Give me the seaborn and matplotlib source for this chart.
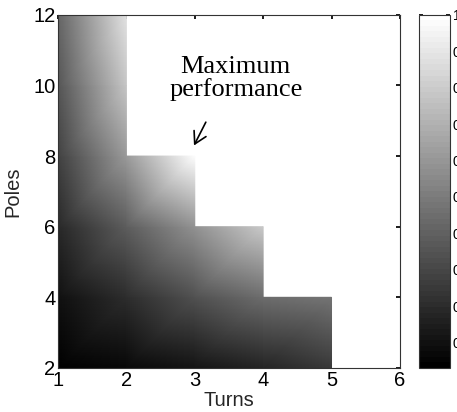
import numpy as np
import matplotlib
matplotlib.use("Agg")
import matplotlib.pyplot as plt
import matplotlib.tri as mtri
import seaborn as sns

# grid nodes: turns along x, poles along y
turns = [1, 2, 3, 4, 5, 6]
poles = [2, 4, 6, 8, 10, 12]

# normalised performance at each (turn, pole) node, nan = not feasible
perf_t1 = [0.03, 0.10, 0.19, 0.28, 0.35, 0.42]
perf_t2 = [0.07, 0.20, 0.38, 0.62, 0.78, 0.88]
perf_t3 = [0.12, 0.34, 0.58, 1.00, np.nan, np.nan]
perf_t4 = [0.18, 0.45, 0.80, np.nan, np.nan, np.nan]
perf_t5 = [0.25, 0.48, np.nan, np.nan, np.nan, np.nan]
perf_t6 = [np.nan, np.nan, np.nan, np.nan, np.nan, np.nan]

cbar_ticks = [0.1, 0.2, 0.3, 0.4, 0.5, 0.6, 0.7, 0.8, 0.9, 1.0]
cbar_labels = ["0.1", "0.2", "0.3", "0.4", "0.5", "0.6", "0.7", "0.8", "0.9", "1"]

sns.set_theme(style="white")
plt.rcParams["font.family"] = ["Liberation Sans", "DejaVu Sans"]

Z = np.array([perf_t1, perf_t2, perf_t3, perf_t4, perf_t5, perf_t6])  # [turn, pole]
TT, PP = np.meshgrid(turns, poles, indexing="ij")

# build triangles from every grid cell whose four corners are all feasible
nt, npl = Z.shape
idx = np.arange(Z.size).reshape(Z.shape)
tris = []
for i in range(nt - 1):
    for j in range(npl - 1):
        corners = Z[i:i + 2, j:j + 2]
        if np.all(np.isfinite(corners)):
            a, b = idx[i, j], idx[i + 1, j]
            c, d = idx[i + 1, j + 1], idx[i, j + 1]
            tris.append([a, b, c])
            tris.append([a, c, d])
tris = np.array(tris)

used = np.unique(tris)
remap = -np.ones(Z.size, dtype=int)
remap[used] = np.arange(len(used))
tri = mtri.Triangulation(TT.ravel()[used], PP.ravel()[used], remap[tris])
vals = Z.ravel()[used]

fig = plt.figure(figsize=(4.57, 4.12), dpi=100)
ax = fig.add_axes([0.127, 0.107, 0.748, 0.857])
cax = fig.add_axes([0.917, 0.107, 0.068, 0.857])

cmap = plt.get_cmap("gray").resampled(64)
tpc = ax.tripcolor(tri, vals, shading="gouraud", cmap=cmap, vmin=0.03, vmax=1.0)

ax.set_xlim(1, 6)
ax.set_ylim(2, 12)
ax.set_xticks(turns)
ax.set_yticks(poles)
ax.tick_params(direction="in", length=3, top=True, right=True,
               labelsize=14.5, pad=2, colors="black")
ax.set_xlabel("Turns", fontsize=14.5, labelpad=1)
ax.set_ylabel("Poles", fontsize=14.5, labelpad=8)
for s in ax.spines.values():
    s.set_color("#333333")
    s.set_linewidth(0.8)

ax.text(3.6, 10.2, "Maximum\nperformance", ha="center", va="center",
        fontsize=19, linespacing=1.0, color="black",
        family=["Liberation Serif", "DejaVu Serif"])
ax.annotate("", xy=(2.97, 8.23), xytext=(3.18, 9.03),
            arrowprops=dict(arrowstyle="->,head_length=0.7,head_width=0.4",
                            lw=1.2, color="black"))

cb = fig.colorbar(tpc, cax=cax)
cb.set_ticks(cbar_ticks)
cb.set_ticklabels(cbar_labels)
cb.outline.set_edgecolor("#333333")
cb.outline.set_linewidth(0.8)
cax.tick_params(direction="in", length=3, left=True, right=True,
                labelsize=10, pad=2, colors="black")

fig.savefig("out.png", dpi=100)
